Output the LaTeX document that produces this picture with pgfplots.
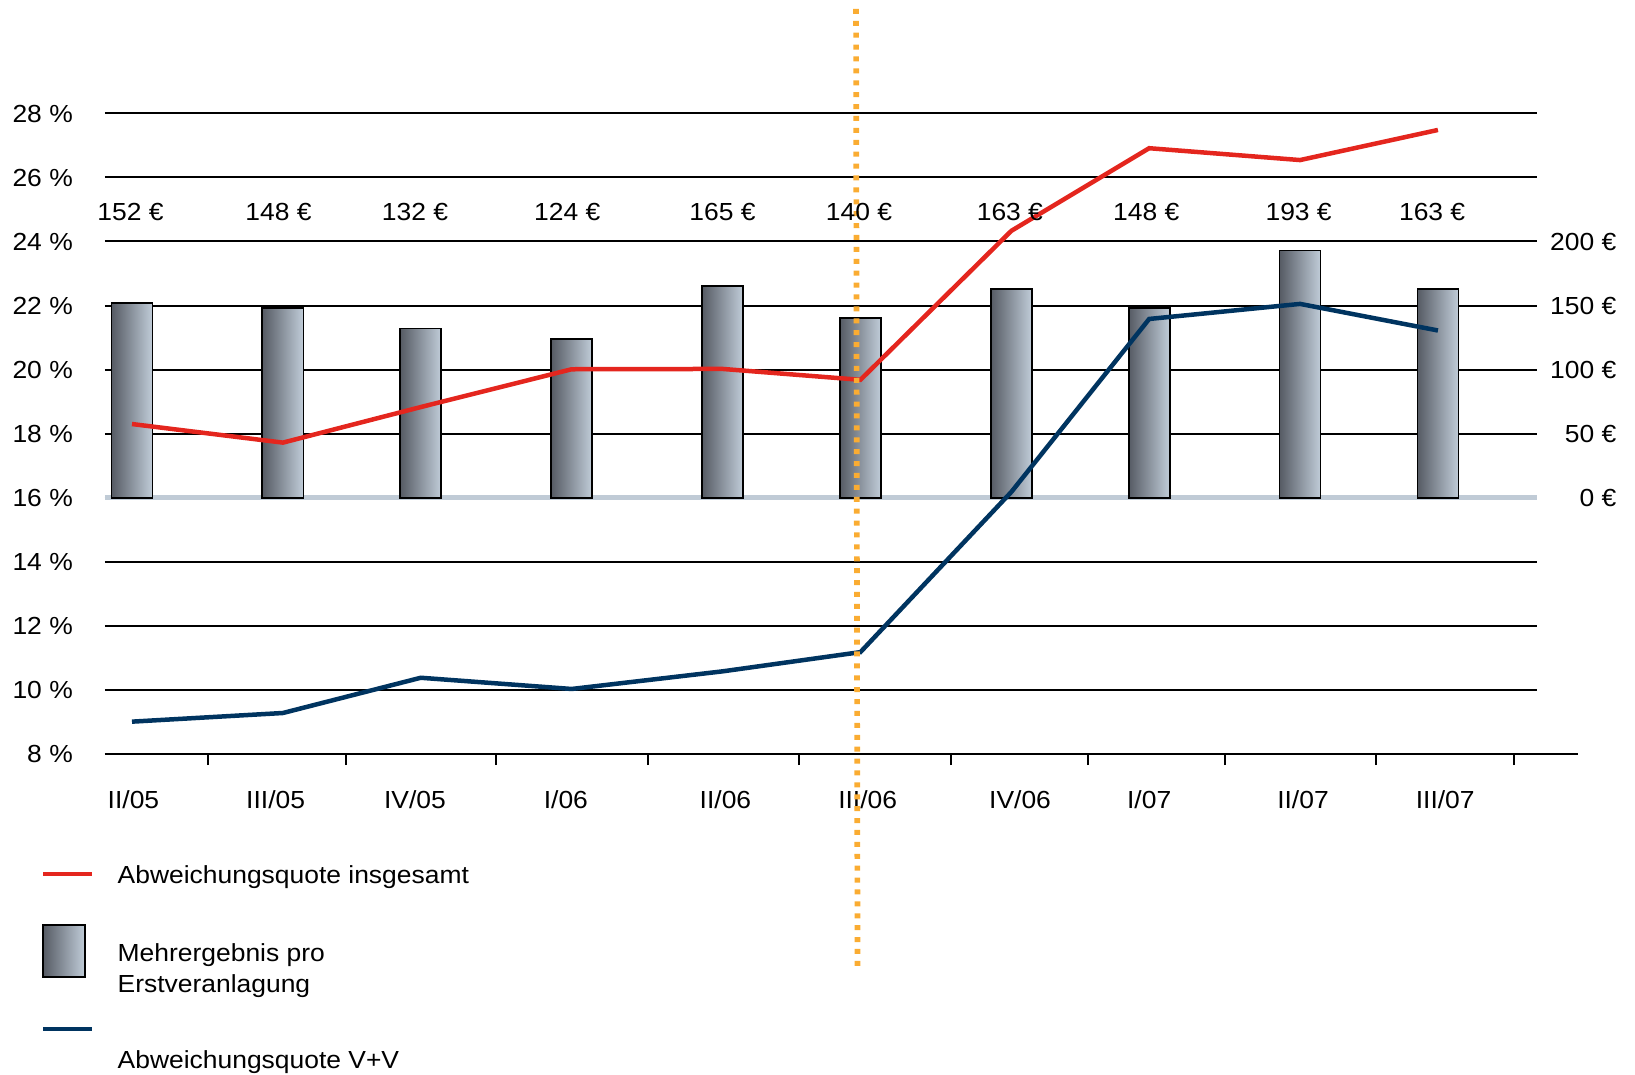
\documentclass[border=0pt]{standalone}
\usepackage{fontspec}
\setmainfont{Liberation Sans}[FakeStretch=1.07]
\usepackage{pgfplots}
\usepackage{pgfplotstable}
\pgfplotsset{compat=1.18}

\definecolor{redline}{RGB}{228,38,30}
\definecolor{blueline}{RGB}{0,52,96}
\definecolor{orangedot}{RGB}{250,172,50}
\definecolor{basecol}{RGB}{192,203,214}
\definecolor{bardark}{RGB}{86,91,100}
\definecolor{barmid}{RGB}{165,177,190}
\definecolor{barlight}{RGB}{192,204,216}

% xb: category position, xv: position of the value label, eur: Mehrergebnis,
% red: Abweichungsquote insgesamt (%), blue: Abweichungsquote V+V (%)
\pgfplotstableread{
xb    xv     ly     eur  red    blue
0.00  -0.01  24.66  152  18.30  9.01
1.04  1.01   24.66  148  17.72  9.28
1.99  1.95   24.66  132  18.83  10.38
3.03  3.00   24.66  124  20.01  10.03
4.07  4.07   24.66  165  20.02  10.58
5.02  5.01   24.66  140  19.68  11.18
6.06  6.05   24.66  163  24.33  16.18
7.01  6.99   24.66  148  26.91  21.58
8.05  8.04   24.66  193  26.54  22.05
9.00  8.96   24.66  163  27.48  21.22
}\data

\pgfplotsset{
  base/.style={
    scale only axis, width=143.2mm, height=64.07mm,
    at={(10.5mm,-75.4mm)}, anchor=south west,
    xmin=-0.186, xmax=9.683,
    tick label style={font=\fontsize{7.03}{8.5}\selectfont},
  }
}

\begin{document}
\fontsize{7.03}{8.5}\selectfont
\begin{tikzpicture}[font=\fontsize{7.03}{8.5}\selectfont]
\path[use as bounding box] (0,0) rectangle (163.5mm,-107.5mm);

% axis 1: grid, left ticks, category labels
\begin{axis}[base, ymin=8, ymax=28, clip=false,
  axis line style={draw=none},
  ytick={8,10,12,14,16,18,20,22,24,26,28},
  yticklabels={8 \%,10 \%,12 \%,14 \%,16 \%,18 \%,20 \%,22 \%,24 \%,26 \%,28 \%},
  ymajorgrids, major grid style={black, line width=0.2mm},
  xtick={0.01,0.99,1.95,2.99,4.09,5.07,6.12,7.01,8.07,9.05},
  xticklabels={II/05,III/05,IV/05,I/06,II/06,III/06,IV/06,I/07,II/07,III/07},
  minor xtick={0.524,1.475,2.509,3.556,4.597,5.644,6.589,7.533,8.573,9.524},
  xtick pos=left, ytick pos=left,
  tick align=outside, major tick length=0pt, minor tick length=1.1mm,
  minor tick style={black, line width=0.2mm},
  xticklabel style={anchor=base, inner sep=0pt, yshift=-5.4mm},
  yticklabel style={anchor=base east, inner sep=0pt, xshift=-3.15mm, yshift=-0.88mm},
]
\draw[basecol, line width=0.5mm] (axis cs:-0.186,16) -- (axis cs:9.683,16);
\draw[black, line width=0.2mm] (axis cs:-0.186,8) -- (axis cs:9.966,8);
\end{axis}

% axis 2: bars on the euro scale, one plot per bar so each bar gets its own shading
\begin{axis}[base, ymin=-200, ymax=300,
  axis line style={draw=none},
  xtick=\empty,
  ytick={0,50,100,150,200},
  yticklabels={0 €,50 €,100 €,150 €,200 €},
  ytick pos=right, yticklabel pos=right,
  major tick length=0pt,
  yticklabel style={anchor=base east, inner sep=0pt, xshift=8mm, yshift=-0.88mm},
]
\pgfplotsinvokeforeach{0,...,9}{
\addplot[ybar, bar shift=0pt, bar width=0.2826, draw=black, line width=0.18mm,
  left color=bardark, middle color=barmid, right color=barlight,
  x filter/.code={\ifnum\coordindex=#1\relax\else\def\pgfmathresult{}\fi}]
  table[x=xb, y=eur]{\data};
}
\end{axis}

% axis 3: lines, value labels, marker line
\begin{axis}[base, ymin=8, ymax=28, hide axis, clip=false]
\addplot[redline, line width=0.45mm, mark=none] table[x=xb, y=red]{\data};
\addplot[blueline, line width=0.45mm, mark=none] table[x=xb, y=blue]{\data};
\addplot[draw=none, mark=none, point meta=explicit symbolic,
  nodes near coords={\pgfplotspointmeta~€},
  every node near coord/.append style={anchor=base, inner sep=0pt, font=\fontsize{7.03}{8.5}\selectfont}]
  table[x=xv, y=ly, meta=eur]{\data};
\draw[orangedot, line width=0.57mm, dash pattern=on 0.5mm off 0.69mm]
  (axis cs:4.99,31.26) -- (axis cs:5.00,1.26);
\end{axis}

% legend
\draw[redline, line width=0.45mm] (4.3mm,-87.4mm) -- (9.18mm,-87.4mm);
\node[anchor=base west, inner sep=0pt] at (11.7mm,-88.3mm) {Abweichungsquote insgesamt};
\draw[black, line width=0.18mm, left color=bardark, middle color=barmid, right color=barlight]
  (4.3mm,-92.5mm) rectangle (8.5mm,-97.7mm);
\node[anchor=base west, inner sep=0pt] at (11.7mm,-96.1mm) {Mehrergebnis pro};
\node[anchor=base west, inner sep=0pt] at (11.7mm,-99.2mm) {Erstveranlagung};
\draw[blueline, line width=0.45mm] (4.3mm,-102.9mm) -- (9.18mm,-102.9mm);
\node[anchor=base west, inner sep=0pt] at (11.7mm,-106.85mm) {Abweichungsquote V+V};
\end{tikzpicture}
\end{document}
